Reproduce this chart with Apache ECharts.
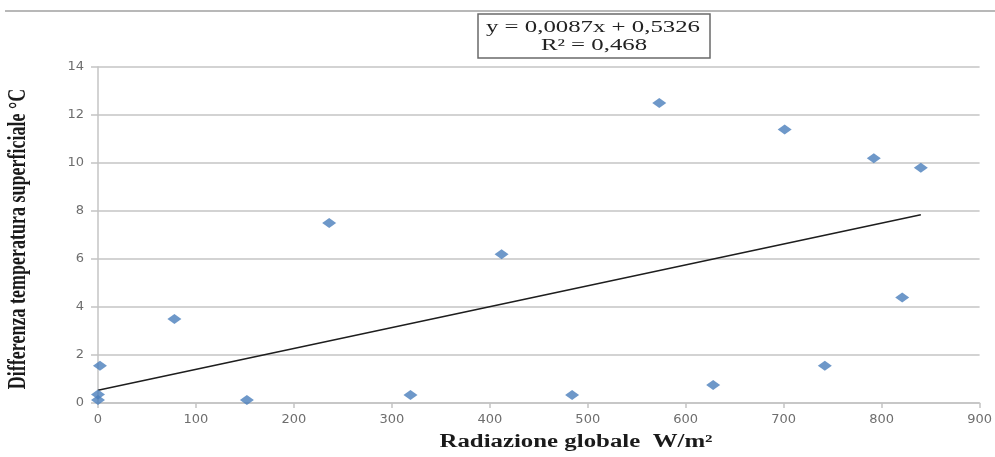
<!DOCTYPE html>
<html>
<head>
<meta charset="utf-8">
<script src="https://cdn.jsdelivr.net/npm/echarts@6/dist/echarts.min.js"></script>
<style>
html,body{margin:0;padding:0;background:#fff;}
#chart{width:995px;height:457px;}
</style>
</head>
<body>
<div id="chart"></div>
<script>
// Data
var radiation = [0, 0, 2, 78, 152, 236, 319, 412, 484, 573, 628, 701, 742, 792, 821, 840];
var tempDiff  = [0.12, 0.35, 1.55, 3.5, 0.12, 7.5, 0.33, 6.2, 0.33, 12.5, 0.75, 11.4, 1.55, 10.2, 4.4, 9.8];
var trendSlope = 0.0087;
var trendIntercept = 0.5326;
var equationText = 'y = 0,0087x + 0,5326';
var r2Text = 'R\u00B2 = 0,468';
var xTitle = 'Radiazione globale  W/m\u00B2';
var yTitle = 'Differenza temperatura superficiale \u00B0C';

var points = radiation.map(function (x, i) { return [x, tempDiff[i]]; });
var xMinData = Math.min.apply(null, radiation);
var xMaxData = Math.max.apply(null, radiation);
var trend = [
  [xMinData, trendSlope * xMinData + trendIntercept],
  [xMaxData, trendSlope * xMaxData + trendIntercept]
];

var chart = echarts.init(document.getElementById('chart'), null, {renderer: 'canvas'});
var gridColor = '#c4c4c4';
var labelColor = '#6e6e6e';
chart.setOption({
  animation: false,
  backgroundColor: '#ffffff',
  grid: {left: 98, right: 15, top: 67, bottom: 54, containLabel: false},
  xAxis: {
    type: 'value', min: 0, max: 900, interval: 100,
    axisLine: {show: true, lineStyle: {color: gridColor, width: 1.5}},
    axisTick: {show: true, length: 5, lineStyle: {color: gridColor, width: 1.5}},
    splitLine: {show: false},
    axisLabel: {color: labelColor, fontFamily: 'DejaVu Sans', fontSize: 13, margin: 10}
  },
  yAxis: {
    type: 'value', min: 0, max: 14, interval: 2,
    axisLine: {show: true, lineStyle: {color: gridColor, width: 1.5}},
    axisTick: {show: true, length: 7, lineStyle: {color: gridColor, width: 1.5}},
    splitLine: {show: true, lineStyle: {color: gridColor, width: 1.5}},
    axisLabel: {color: labelColor, fontFamily: 'DejaVu Sans', fontSize: 13, margin: 14}
  },
  series: [
    {
      type: 'line', data: trend, symbol: 'none', silent: true,
      lineStyle: {color: '#1e1e1e', width: 1.5}, z: 2
    },
    {
      type: 'scatter', data: points, symbol: 'diamond', symbolSize: [14, 10],
      itemStyle: {color: '#4a7ebb'}, z: 3
    }
  ],
  graphic: [
    {type: 'line', shape: {x1: 5, y1: 11, x2: 995, y2: 11}, style: {stroke: '#b8b8b8', lineWidth: 2}},
    {type: 'rect', shape: {x: 478, y: 14, width: 232, height: 44},
     style: {fill: '#ffffff', stroke: '#6a6a6a', lineWidth: 1.5}, z: 10},
    {type: 'text', x: 593, y: 28, scaleX: 1.55, z: 11,
     style: {text: equationText, x: 0, y: 0, font: '16px "Liberation Serif"', fill: '#222',
             textAlign: 'center', textVerticalAlign: 'middle'}},
    {type: 'text', x: 594, y: 46, scaleX: 1.55, z: 11,
     style: {text: r2Text, x: 0, y: 0, font: '16px "Liberation Serif"', fill: '#222',
             textAlign: 'center', textVerticalAlign: 'middle'}},
    {type: 'text', x: 576, y: 442, scaleX: 1.38, z: 11,
     style: {text: xTitle, x: 0, y: 0, font: 'bold 18px "Liberation Serif"', fill: '#1a1a1a',
             textAlign: 'center', textVerticalAlign: 'middle'}},
    {type: 'text', x: 19, y: 239, rotation: Math.PI / 2, scaleY: 1.35, z: 11,
     style: {text: yTitle, x: 0, y: 0, font: 'bold 18px "Liberation Serif"', fill: '#1a1a1a',
             textAlign: 'center', textVerticalAlign: 'middle'}}
  ]
});
</script>
</body>
</html>
